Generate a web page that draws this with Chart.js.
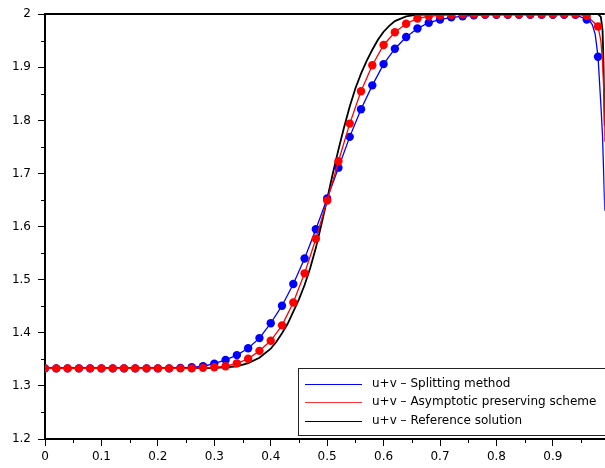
<!DOCTYPE html>
<html>
<head>
<meta charset="utf-8">
<script src="https://cdn.jsdelivr.net/npm/chart.js@4/dist/chart.umd.min.js"></script>
<style>
body { margin: 0; background: #fff; overflow: hidden; }
/* the plot box runs slightly past the right edge of the window, as in the original */
#wrap { width: 609px; height: 468px; }
</style>
</head>
<body>
<div id="wrap"><canvas id="chart"></canvas></div>
<script>
// positions of the markers (every 0.02)
const xMarks = [0, 0.02, 0.04, 0.06, 0.08, 0.1, 0.12, 0.14, 0.16, 0.18,
    0.2, 0.22, 0.24, 0.26, 0.28, 0.3, 0.32, 0.34, 0.36, 0.38,
    0.4, 0.42, 0.44, 0.46, 0.48, 0.5, 0.52, 0.54, 0.56, 0.58,
    0.6, 0.62, 0.64, 0.66, 0.68, 0.7, 0.72, 0.74, 0.76, 0.78,
    0.8, 0.82, 0.84, 0.86, 0.88, 0.9, 0.92, 0.94, 0.96, 0.98];

// u+v splitting method (blue)
const splitVals = [1.333, 1.333, 1.333, 1.333, 1.333, 1.333, 1.333, 1.333, 1.333, 1.333,
    1.333, 1.333, 1.334, 1.335, 1.337, 1.342, 1.349, 1.358, 1.371, 1.390,
    1.418, 1.451, 1.492, 1.540, 1.595, 1.653, 1.711, 1.769, 1.821, 1.866,
    1.906, 1.935, 1.957, 1.973, 1.984, 1.990, 1.994, 1.996, 1.998, 1.999,
    1.999, 1.999, 1.999, 1.999, 1.999, 1.999, 1.999, 1.999, 1.990, 1.920];

// u+v asymptotic preserving scheme (red)
const apVals = [1.333, 1.333, 1.333, 1.333, 1.333, 1.333, 1.333, 1.333, 1.333, 1.333,
    1.333, 1.333, 1.333, 1.333, 1.334, 1.335, 1.337, 1.3425, 1.351, 1.366,
    1.385, 1.414, 1.457, 1.512, 1.577, 1.649, 1.723, 1.794, 1.855, 1.904,
    1.942, 1.966, 1.982, 1.992, 1.996, 1.998, 1.999, 2.0, 2.0, 2.0,
    2.0, 2.0, 2.0, 2.0, 2.0, 2.0, 2.0, 2.0, 1.997, 1.977];

// line continues past the last marker (boundary layer at x=1)
const xSplitTail = [0.965, 0.97, 0.975, 0.985, 0.988, 0.99, 0.992, 0.995, 1.0];
const splitTail = [1.988, 1.980, 1.962, 1.83, 1.77, 1.70, 1.63, 1.48, 1.34];
const xApTail = [0.985, 0.988, 0.99, 0.992, 0.995, 1.0];
const apTail = [1.950, 1.91, 1.86, 1.76, 1.58, 1.36];

// reference solution (black)
const xRef = [0, 0.1, 0.2, 0.25, 0.28, 0.3, 0.32, 0.34, 0.36, 0.38,
    0.4, 0.41, 0.42, 0.43, 0.44, 0.45, 0.46, 0.47, 0.48, 0.49,
    0.5, 0.51, 0.52, 0.53, 0.54, 0.55, 0.56, 0.57, 0.58, 0.59,
    0.6, 0.61, 0.62, 0.64, 0.66, 0.7, 0.8, 0.9, 0.98, 0.985,
    0.988, 0.99, 0.992, 0.995, 1.0];
const refVals = [1.3333, 1.3333, 1.3333, 1.3333, 1.3335, 1.334, 1.335, 1.337, 1.343, 1.353,
    1.370, 1.383, 1.399, 1.417, 1.440, 1.463, 1.490, 1.522, 1.560, 1.605,
    1.652, 1.700, 1.745, 1.787, 1.826, 1.860, 1.888, 1.912, 1.933, 1.952,
    1.967, 1.978, 1.987, 1.996, 1.999, 2.0, 2.0, 2.0, 2.0, 1.995,
    1.97, 1.90, 1.79, 1.60, 1.35];

const seriesLabels = ['u+v \u2013 Splitting method',
    'u+v \u2013 Asymptotic preserving scheme',
    'u+v \u2013 Reference solution'];

// ticks
const xMajor = [0, 0.1, 0.2, 0.3, 0.4, 0.5, 0.6, 0.7, 0.8, 0.9];
const xMajorLabels = ['0', '0.1', '0.2', '0.3', '0.4', '0.5', '0.6', '0.7', '0.8', '0.9'];
const xMinor = [0.05, 0.15, 0.25, 0.35, 0.45, 0.55, 0.65, 0.75, 0.85, 0.95];
const yMajor = [1.2, 1.3, 1.4, 1.5, 1.6, 1.7, 1.8, 1.9, 2];
const yMajorLabels = ['1.2', '1.3', '1.4', '1.5', '1.6', '1.7', '1.8', '1.9', '2'];
const yMinor = [1.25, 1.35, 1.45, 1.55, 1.65, 1.75, 1.85, 1.95];

function toPoints(xs, ys) {
    return xs.map((x, i) => ({ x: x, y: ys[i] }));
}
function lineWithTail(xs, ys, xt, yt) {
    return toPoints(xs, ys).concat(toPoints(xt, yt)).sort((a, b) => a.x - b.x);
}

const FONT = 'DejaVu Sans';

// small ticks, top frame line and the boxed legend
const extras = {
    id: 'extras',
    afterDraw(chart) {
        const ctx = chart.ctx;
        const a = chart.chartArea;
        const xs = chart.scales.x, ys = chart.scales.y;
        ctx.save();
        ctx.strokeStyle = '#000';
        ctx.lineWidth = 1;
        ctx.beginPath();
        xMinor.forEach(v => {
            const px = Math.round(xs.getPixelForValue(v)) + 0.5;
            ctx.moveTo(px, a.bottom);
            ctx.lineTo(px, a.bottom + 4);
        });
        yMinor.forEach(v => {
            const py = Math.round(ys.getPixelForValue(v)) + 0.5;
            ctx.moveTo(a.left - 4, py);
            ctx.lineTo(a.left, py);
        });
        ctx.stroke();

        // top frame
        ctx.lineWidth = 2;
        ctx.beginPath();
        ctx.moveTo(a.left, Math.round(a.top));
        ctx.lineTo(a.right, Math.round(a.top));
        ctx.stroke();

        // legend
        const bx = 298, by = 368, bh = 67;
        ctx.fillStyle = '#fff';
        ctx.fillRect(bx, by, a.right - bx + 5, bh);
        ctx.strokeStyle = '#222';
        ctx.lineWidth = 1;
        ctx.strokeRect(bx + 0.5, by + 0.5, a.right - bx + 5, bh);
        const colors = ['#0000ff', '#ff3333', '#000000'];
        ctx.font = '12px "' + FONT + '"';
        ctx.textBaseline = 'middle';
        ctx.textAlign = 'left';
        seriesLabels.forEach((lab, i) => {
            const yy = by + 16 + i * 18.3;
            ctx.strokeStyle = colors[i];
            ctx.lineWidth = 1.2;
            ctx.beginPath();
            ctx.moveTo(305, Math.round(yy) + 0.5);
            ctx.lineTo(362, Math.round(yy) + 0.5);
            ctx.stroke();
            ctx.fillStyle = '#000';
            ctx.fillText(lab, 372, yy);
        });
        ctx.restore();
    }
};

const ctx = document.getElementById('chart').getContext('2d');
const chart = new Chart(ctx, {
    type: 'line',
    data: {
        datasets: [
            {
                label: seriesLabels[1] + ' markers',
                data: toPoints(xMarks, apVals),
                showLine: false,
                pointRadius: 4.2,
                pointBackgroundColor: '#ff0000',
                pointBorderWidth: 0,
                clip: 0
            },
            {
                label: seriesLabels[1],
                data: lineWithTail(xMarks, apVals, xApTail, apTail),
                borderColor: '#ff0000',
                borderWidth: 1.3,
                pointRadius: 0,
                clip: 0
            },
            {
                label: seriesLabels[0] + ' markers',
                data: toPoints(xMarks, splitVals),
                showLine: false,
                pointRadius: 4.2,
                pointBackgroundColor: '#0000ff',
                pointBorderWidth: 0,
                clip: 0
            },
            {
                label: seriesLabels[0],
                data: lineWithTail(xMarks, splitVals, xSplitTail, splitTail),
                borderColor: '#0000ff',
                borderWidth: 1.3,
                pointRadius: 0,
                clip: 0
            },
            {
                label: seriesLabels[2],
                data: toPoints(xRef, refVals),
                borderColor: '#000000',
                borderWidth: 1.8,
                pointRadius: 0,
                clip: 0
            }
        ]
    },
    options: {
        responsive: true,
        maintainAspectRatio: false,
        animation: false,
        layout: { padding: { top: 14, right: 0, left: 0, bottom: 0 } },
        plugins: {
            legend: { display: false },
            tooltip: { enabled: false }
        },
        scales: {
            x: {
                type: 'linear',
                min: 0,
                max: 0.992,
                afterFit: axis => { axis.height = 29; },
                afterBuildTicks: axis => { axis.ticks = xMajor.map(v => ({ value: v })); },
                border: { display: true, color: '#000', width: 2 },
                grid: { drawOnChartArea: false, drawTicks: true, tickLength: 7, tickColor: '#000', tickWidth: 1 },
                ticks: {
                    color: '#000',
                    padding: 4,
                    maxRotation: 0,
                    autoSkip: false,
                    font: { family: FONT, size: 12 },
                    callback: (v, i) => xMajorLabels[i]
                }
            },
            y: {
                min: 1.2,
                max: 2,
                afterFit: axis => { axis.width = 45; },
                afterBuildTicks: axis => { axis.ticks = yMajor.map(v => ({ value: v })); },
                border: { display: true, color: '#000', width: 2 },
                grid: { drawOnChartArea: false, drawTicks: true, tickLength: 7, tickColor: '#000', tickWidth: 1 },
                ticks: {
                    color: '#000',
                    padding: 7,
                    autoSkip: false,
                    font: { family: FONT, size: 12 },
                    callback: (v, i) => yMajorLabels[i]
                }
            }
        }
    },
    plugins: [extras]
});
</script>
</body>
</html>
